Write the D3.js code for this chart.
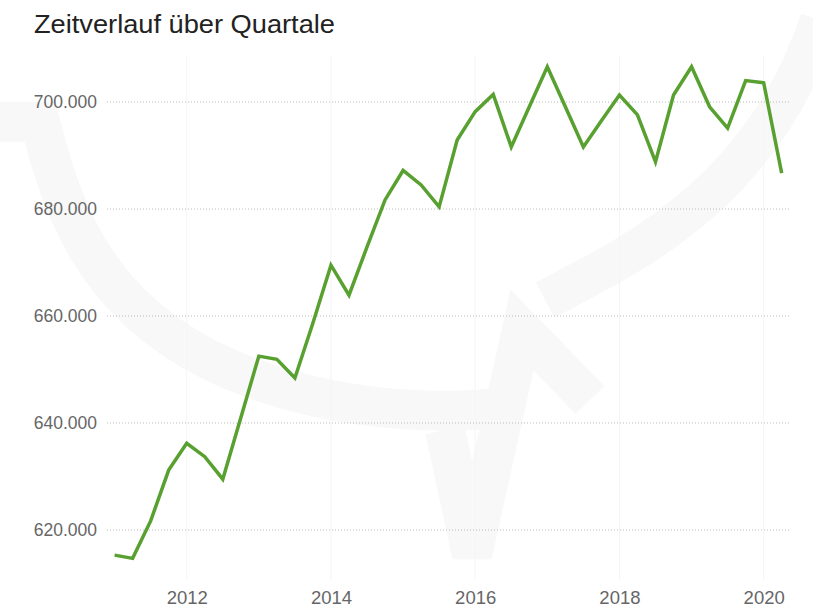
<!DOCTYPE html>
<html>
<head>
<meta charset="utf-8">
<script src="https://cdn.jsdelivr.net/npm/d3@7"></script>
<style>
  body { margin: 0; background: #fff; }
  svg { display: block; font-family: "Liberation Sans", Arial, sans-serif; }
</style>
</head>
<body>
<svg width="813" height="613"></svg>
<script>
// quarters as decimal years (Q1 = .00, Q2 = .25 ...)
var quarters = [
  2011.00, 2011.25, 2011.50, 2011.75,
  2012.00, 2012.25, 2012.50, 2012.75,
  2013.00, 2013.25, 2013.50, 2013.75,
  2014.00, 2014.25, 2014.50, 2014.75,
  2015.00, 2015.25, 2015.50, 2015.75,
  2016.00, 2016.25, 2016.50, 2016.75,
  2017.00, 2017.25, 2017.50, 2017.75,
  2018.00, 2018.25, 2018.50, 2018.75,
  2019.00, 2019.25, 2019.50, 2019.75,
  2020.00, 2020.25
];

// values in thousands
var values = [
  615.3, 614.7, 621.7, 631.2,
  636.2, 633.7, 629.5, 641.0,
  652.5, 651.9, 648.4, 658.7,
  669.5, 663.9, 672.9, 681.7,
  687.2, 684.5, 680.4, 692.9,
  698.2, 701.4, 691.6, 699.1,
  706.6, 699.1, 691.6, 696.5,
  701.3, 697.6, 688.8, 701.3,
  706.6, 699.1, 695.1, 704.0,
  703.6, 686.7
];

var yTicks = [620, 640, 660, 680, 700];
var xTicks = [2012, 2014, 2016, 2018, 2020];

var svg = d3.select("svg");

var x = d3.scaleLinear().domain([2011, 2020.25]).range([114.6, 781.7]);
var y = d3.scaleLinear().domain([620, 700]).range([530, 102]);

// very faint logo watermark behind the chart
var wm = svg.append("g")
    .attr("fill", "none")
    .attr("stroke", "#f8f8f8")
    .attr("stroke-width", 40);
wm.append("path")
    .attr("d", "M 0 122 L 40 122 C 60 200, 90 300, 210 360 C 300 405, 420 420, 520 405");
wm.append("path")
    .attr("d", "M 545 300 C 620 260, 760 200, 820 20");
wm.append("path")
    .attr("d", "M 445 430 L 472 555 L 522 330 L 590 400");

// faint vertical year lines
svg.append("g")
  .selectAll("line")
  .data(xTicks)
  .join("line")
    .attr("x1", function(d) { return x(d); })
    .attr("x2", function(d) { return x(d); })
    .attr("y1", 55)
    .attr("y2", 580)
    .attr("stroke", "#f5f5f5")
    .attr("stroke-width", 1);

// dotted horizontal gridlines
svg.append("g")
  .selectAll("line")
  .data(yTicks)
  .join("line")
    .attr("x1", 107)
    .attr("x2", 790)
    .attr("y1", function(d) { return y(d); })
    .attr("y2", function(d) { return y(d); })
    .attr("stroke", "#bbb")
    .attr("stroke-width", 1.2)
    .attr("stroke-dasharray", "1,2");

// y axis labels
svg.append("g")
    .attr("transform", "translate(97,0)")
    .call(d3.axisLeft(y).tickValues(yTicks).tickSize(0).tickPadding(0)
      .tickFormat(function(d) { return d + ".000"; }))
    .call(function(g) { g.select(".domain").remove(); })
    .selectAll("text")
      .attr("fill", "#666")
      .attr("font-size", 17.5)
      .attr("font-family", "Liberation Sans, Arial, sans-serif");

// x axis labels
svg.append("g")
    .attr("transform", "translate(0,591)")
    .call(d3.axisBottom(x).tickValues(xTicks).tickSize(0).tickPadding(0)
      .tickFormat(d3.format("d")))
    .call(function(g) { g.select(".domain").remove(); })
    .selectAll("text")
      .attr("fill", "#666")
      .attr("font-size", 18.5)
      .attr("font-family", "Liberation Sans, Arial, sans-serif");

// the line
var line = d3.line()
    .x(function(d, i) { return x(quarters[i]); })
    .y(function(d) { return y(d); });

svg.append("path")
    .datum(values)
    .attr("fill", "none")
    .attr("stroke", "#58a02f")
    .attr("stroke-width", 3.5)
    .attr("stroke-linejoin", "miter")
    .attr("d", line);

// title
svg.append("text")
    .attr("x", 34)
    .attr("y", 33)
    .attr("fill", "#222")
    .attr("font-size", 26)
    .attr("textLength", 301)
    .attr("lengthAdjust", "spacingAndGlyphs")
    .text("Zeitverlauf über Quartale");
</script>
</body>
</html>
